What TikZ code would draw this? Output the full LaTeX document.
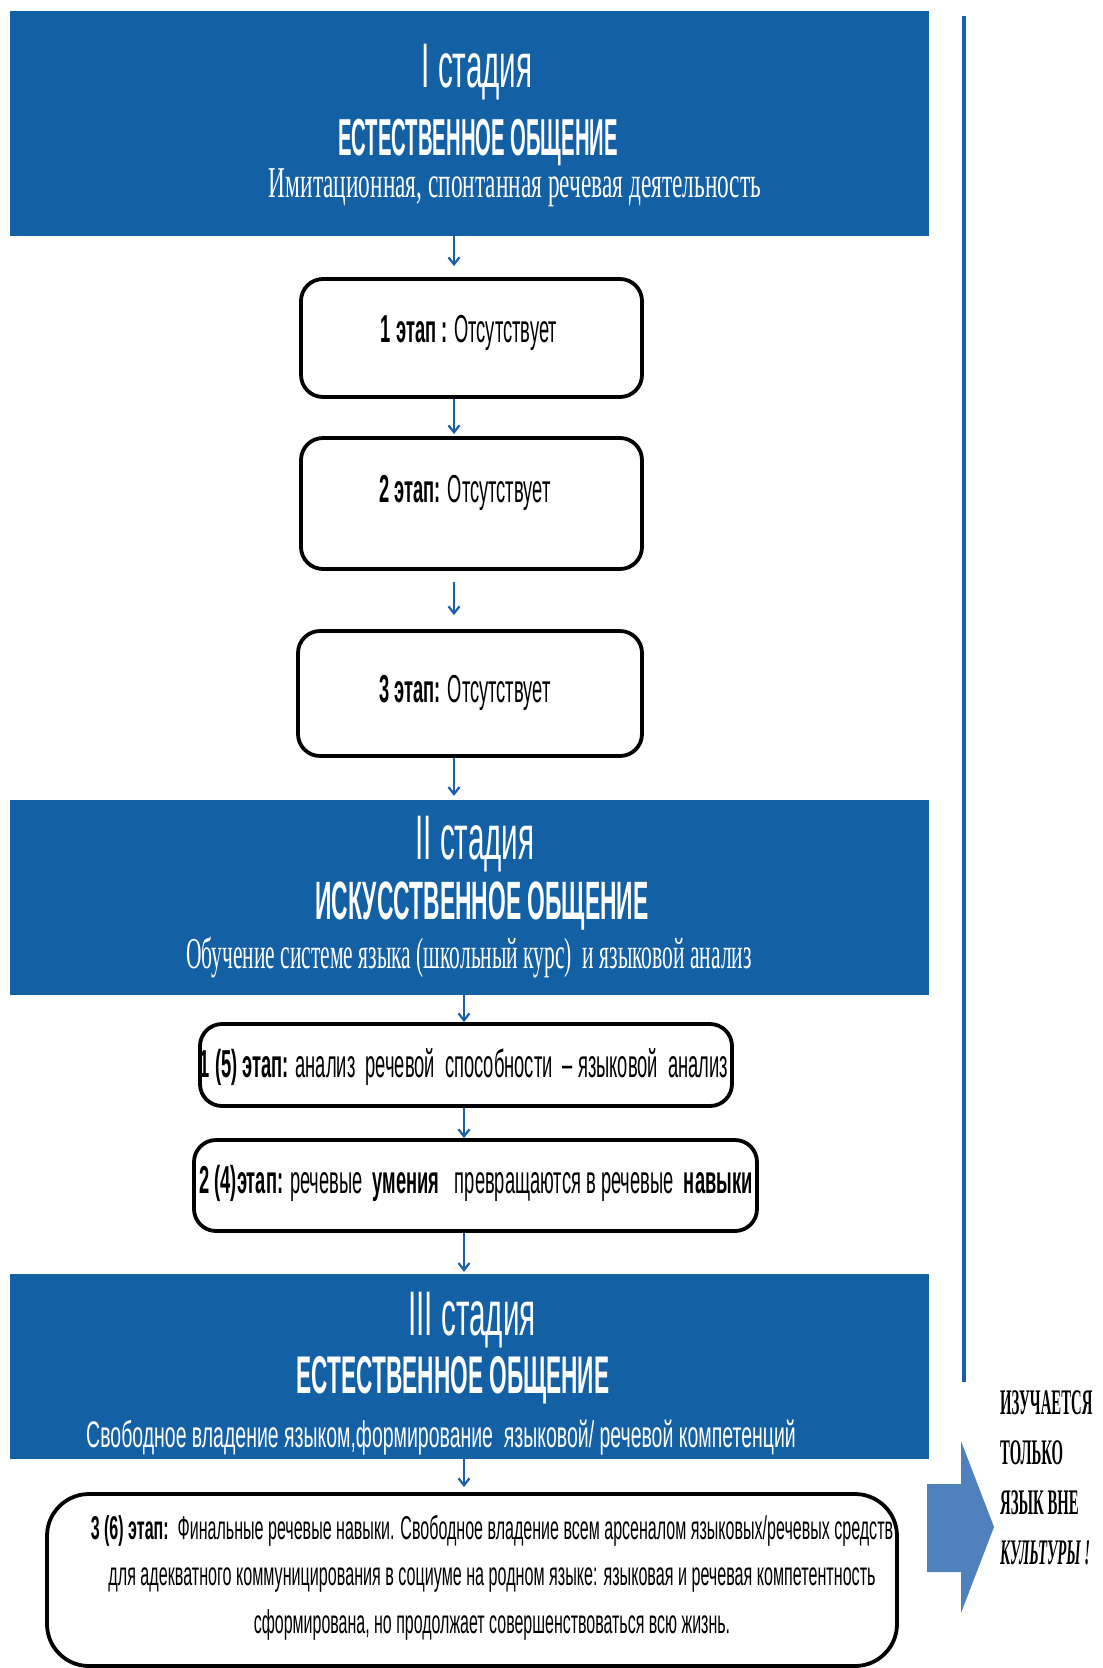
\documentclass[tikz,border=0pt]{standalone}
\usepackage{fontspec}
\setmainfont{Liberation Serif}
\newfontfamily\condsans[FakeStretch=0.47]{Liberation Sans}
\newfontfamily\condserif[FakeStretch=0.52]{Liberation Serif}
\newfontfamily\condslab[FakeStretch=0.41]{Liberation Serif}
\usetikzlibrary{arrows.meta,positioning}
\definecolor{StBlue}{HTML}{1360A5}
\definecolor{StArrow}{HTML}{4F81BD}
\definecolor{StLine}{HTML}{1A5FA8}
\newcommand{\squeeze}[2]{\scalebox{#1}[1]{#2}}
\tikzset{
  flow/.style={-{Straight Barb[length=7pt,width=11pt]},StLine,line width=2.2pt},
  stage/.style={fill=StBlue,minimum width=919pt,inner sep=0pt},
  stagehead/.style={text=white,anchor=base,inner sep=0pt,font=\condsans\fontsize{63}{70}\selectfont},
  stagename/.style={text=white,anchor=base,inner sep=0pt,font=\condsans\bfseries\fontsize{54}{60}\selectfont},
  stagenote/.style={text=white,anchor=base,inner sep=0pt,font=\condserif\fontsize{44}{50}\selectfont},
  stepbox/.style={draw=black,line width=3.8pt,fill=white,rounded corners=22pt,inner sep=0pt},
  steptext/.style={anchor=base,inner sep=0pt,font=\condsans\fontsize{39}{44}\selectfont},
  finaltext/.style={steptext,font=\condsans\fontsize{33}{47}\selectfont},
  note/.style={anchor=north west,inner sep=0pt,align=left,
               font=\condslab\bfseries\fontsize{36}{50}\selectfont},
  rule/.style={StLine,line width=4pt},
}

\begin{document}
\begin{tikzpicture}[x=1pt,y=-1pt]
  \useasboundingbox (0,0) rectangle (1103,1668);

  % stage I
  \node[stage,minimum height=225pt] (stage1) at (469.5,123.5) {};
  \node[stagehead] (h1) at (477,87) {I стадия};
  \node[stagename,font=\condsans\bfseries\fontsize{52}{58}\selectfont] (n1) at (478,155)
    {\squeeze{0.83}{ЕСТЕСТВЕННОЕ ОБЩЕНИЕ}};
  \node[stagenote] (d1) at (515,197) {\squeeze{1.02}{Имитационная, спонтанная речевая деятельность}};

  \node[stepbox,minimum width=341pt,minimum height=118pt] (s1) at (471.5,338) {};
  \node[steptext] (s1t) at (469,342) {\bfseries 1 этап : \mdseries Отсутствует};
  \node[stepbox,minimum width=341pt,minimum height=131pt] (s2) at (471.5,503.5) {};
  \node[steptext] (s2t) at (465,502) {\bfseries 2 этап: \mdseries Отсутствует};
  \node[stepbox,minimum width=344pt,minimum height=125pt] (s3) at (470,693.5) {};
  \node[steptext] (s3t) at (465,702) {\bfseries 3 этап: \mdseries Отсутствует};

  % stage II
  \node[stage,minimum height=195pt] (stage2) at (469.5,897.5) {};
  \node[stagehead] (h2) at (475,859) {II стадия};
  \node[stagename] (n2) at (482,919) {\squeeze{0.9}{ИСКУССТВЕННОЕ ОБЩЕНИЕ}};
  \node[stagenote] (d2) at (469,968)
    {\squeeze{0.94}{Обучение системе языка (школьный курс)\ \ и языковой анализ}};

  \node[stepbox,minimum width=532pt,minimum height=82pt] (s4) at (466,1065) {};
  \node[steptext] (s4t) at (464,1077)
    {\bfseries 1 (5) этап: \mdseries анализ\ \ речевой\ \ способности\ \ – языковой\ \ анализ};
  \node[stepbox,minimum width=563pt,minimum height=91pt] (s5) at (475.5,1185.5) {};
  \node[steptext] (s5t) at (476,1193)
    {\bfseries 2 (4)этап: \mdseries речевые\ \ \textbf{умения}\ \ \ превращаются в речевые\ \ \textbf{навыки}};

  % stage III
  \node[stage,minimum height=185pt] (stage3) at (469.5,1366.5) {};
  \node[stagehead] (h3) at (472,1335) {III стадия};
  \node[stagename,font=\condsans\bfseries\fontsize{53}{58}\selectfont] (n3) at (453,1393)
    {\squeeze{0.91}{ЕСТЕСТВЕННОЕ ОБЩЕНИЕ}};
  \node[stagehead,font=\condsans\fontsize{37}{42}\selectfont] (d3) at (441,1447)
    {\squeeze{1.12}{Свободное владение языком,формирование\ \ языковой/ речевой компетенций}};

  \node[stepbox,rounded corners=42pt,minimum width=850pt,minimum height=172pt] (s6) at (472,1580) {};
  \node[finaltext] (s6a) at (492,1539)
    {\squeeze{1.035}{\bfseries 3 (6) этап:\ \ \mdseries Финальные речевые навыки. Свободное владение всем арсеналом языковых/речевых средств}};
  \node[finaltext] (s6b) at (492,1585)
    {\squeeze{1.04}{для адекватного коммуницирования в социуме на родном языке: языковая и речевая компетентность}};
  \node[finaltext] (s6c) at (492,1633)
    {\squeeze{1.03}{сформирована, но продолжает совершенствоваться всю жизнь.}};

  % connectors
  \coordinate (ax) at (454,0);
  \coordinate (bx) at (464,0);
  \draw[flow,shorten >=11pt] (stage1.south -| ax) -- (s1.north -| ax);
  \draw[flow,shorten >=2pt] (s1.south -| ax) -- (s2.north -| ax);
  \draw[flow,shorten <=11pt,shorten >=14pt] (s2.south -| ax) -- (s3.north -| ax);
  \draw[flow,shorten >=4pt] (s3.south -| ax) -- (stage2.north -| ax);
  \draw[flow] (stage2.south -| bx) -- (s4.north -| bx);
  \draw[flow] (s4.south -| bx) -- (s5.north -| bx);
  \draw[flow,shorten >=2pt] (s5.south -| bx) -- (stage3.north -| bx);
  \draw[flow,shorten >=5pt] (stage3.south -| bx) -- (s6.north -| bx);

  % right side
  \coordinate (vtop) at (964,16);
  \coordinate (vbot) at (964,1382);
  \draw[rule] (vtop) -- (vbot);
  \fill[StArrow] (927,1484) -- (961,1484) -- (961,1441) -- (994,1527)
    -- (961,1613) -- (961,1572) -- (927,1572) -- cycle;
  \node[note] (only) at (1000,1390)
    {ИЗУЧАЕТСЯ\\ТОЛЬКО\\ЯЗЫК ВНЕ\\\itshape КУЛЬТУРЫ !};
\end{tikzpicture}
\end{document}
